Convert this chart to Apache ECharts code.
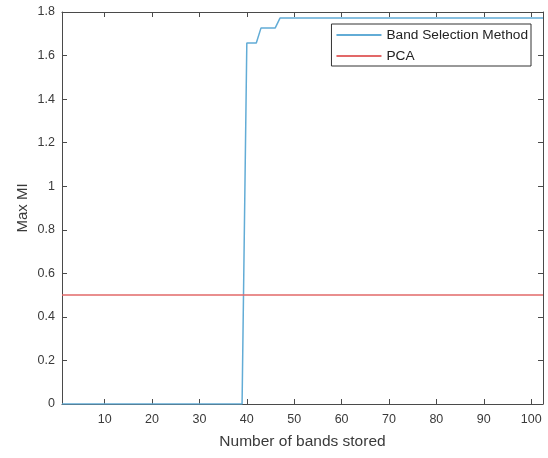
<!DOCTYPE html>
<html>
<head>
<meta charset="utf-8">
<script src="https://cdn.jsdelivr.net/npm/echarts@6/dist/echarts.min.js"></script>
<style>html,body{margin:0;padding:0;background:#fff;}#c{width:548px;height:458px;}</style>
</head>
<body>
<div id="c"></div>
<script>
// Data (step change points)
var bandsStored = [1, 39, 40, 42, 43, 46, 47, 102.5];
var bandSelectionMI = [0, 0, 1.658, 1.658, 1.727, 1.727, 1.772, 1.772];
var pcaX = [1, 102.5];
var pcaMI = [0.5, 0.5];
var xTicks = [10, 20, 30, 40, 50, 60, 70, 80, 90, 100];
var seriesNames = ['Band Selection Method', 'PCA'];

var font = 'Liberation Sans, Arial, sans-serif';
var axisColor = '#4a4a4a';
var textColor = '#3a3a3a';

function pairs(xs, ys) { return xs.map(function (x, i) { return [x, ys[i]]; }); }

var chart = echarts.init(document.getElementById('c'), null, {renderer: 'canvas'});
chart.setOption({
  animation: false,
  backgroundColor: '#ffffff',
  textStyle: {fontFamily: font},
  grid: {left: 62, right: 5, top: 12, bottom: 54, containLabel: false},
  legend: {
    right: 17, top: 24, orient: 'vertical',
    data: seriesNames,
    backgroundColor: '#ffffff', borderColor: '#333333', borderWidth: 1, borderRadius: 0,
    padding: [4, 3, 3, 5], itemGap: 7, itemWidth: 45, itemHeight: 2, icon: 'rect',
    textStyle: {fontFamily: font, fontSize: 13.7, color: '#222222'}
  },
  xAxis: [{
    type: 'value', min: 1, max: 102.5, position: 'bottom',
    name: 'Number of bands stored', nameLocation: 'middle', nameGap: 30,
    nameTextStyle: {fontSize: 15.5, color: textColor, fontFamily: font},
    axisLine: {show: true, onZero: false, lineStyle: {color: axisColor, width: 1}},
    axisTick: {show: true, inside: true, length: 5, customValues: xTicks, lineStyle: {color: axisColor}},
    axisLabel: {show: true, customValues: xTicks, fontSize: 12.5, color: textColor, margin: 9, fontFamily: font},
    splitLine: {show: false}
  }, {
    type: 'value', min: 1, max: 102.5, position: 'top',
    axisLine: {show: true, onZero: false, lineStyle: {color: axisColor, width: 1}},
    axisTick: {show: true, inside: true, length: 5, customValues: xTicks, lineStyle: {color: axisColor}},
    axisLabel: {show: false}, splitLine: {show: false}
  }],
  yAxis: [{
    type: 'value', min: 0, max: 1.8, interval: 0.2, position: 'left',
    name: 'Max MI', nameLocation: 'middle', nameGap: 32, nameRotate: 90, nameMoveOverlap: false,
    nameTextStyle: {fontSize: 15, color: textColor, fontFamily: font},
    axisLine: {show: true, onZero: false, lineStyle: {color: axisColor, width: 1}},
    axisTick: {show: true, inside: true, length: 5, lineStyle: {color: axisColor}},
    axisLabel: {show: true, fontSize: 12.5, color: textColor, margin: 7, fontFamily: font,
      formatter: function (v) { return String(Math.round(v * 10) / 10); }},
    splitLine: {show: false}
  }, {
    type: 'value', min: 0, max: 1.8, interval: 0.2, position: 'right',
    axisLine: {show: true, onZero: false, lineStyle: {color: axisColor, width: 1}},
    axisTick: {show: true, inside: true, length: 5, lineStyle: {color: axisColor}},
    axisLabel: {show: false}, splitLine: {show: false}
  }],
  series: [{
    name: seriesNames[0], type: 'line', xAxisIndex: 0, yAxisIndex: 0,
    data: pairs(bandsStored, bandSelectionMI), showSymbol: false, symbol: 'none',
    lineStyle: {color: '#62acd6', width: 1.5}, itemStyle: {color: '#62acd6'}, z: 3
  }, {
    name: seriesNames[1], type: 'line', xAxisIndex: 0, yAxisIndex: 0,
    data: pairs(pcaX, pcaMI), showSymbol: false, symbol: 'none',
    lineStyle: {color: '#e26868', width: 1.5}, itemStyle: {color: '#e26868'}, z: 3
  }]
});
</script>
</body>
</html>
